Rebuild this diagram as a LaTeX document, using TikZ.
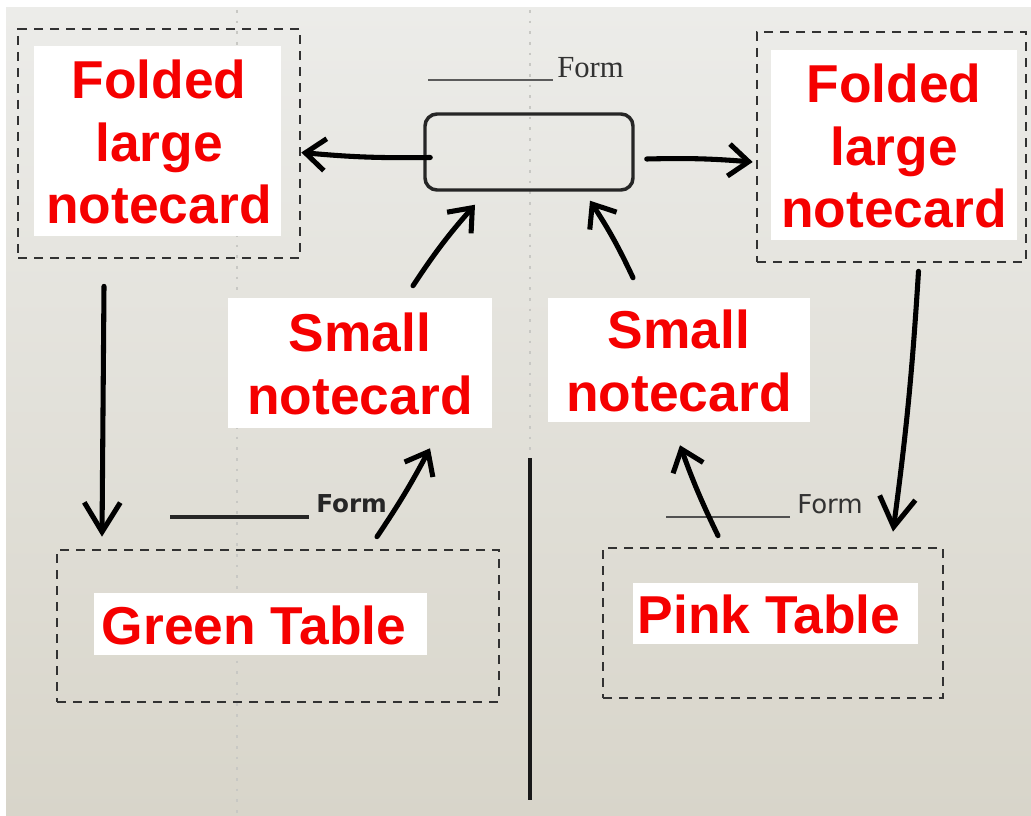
\documentclass[tikz,border=0pt]{standalone}
\usepackage{fontspec}
\setmainfont{Liberation Sans}
\newfontfamily\labelfont{Liberation Sans}
\newfontfamily\serifform{Liberation Serif}
\newfontfamily\dejavu{DejaVu Sans}
\usetikzlibrary{arrows.meta,fit,calc}
\definecolor{labelred}{RGB}{245,0,0}
\definecolor{papertop}{RGB}{236,236,233}
\definecolor{paperbot}{RGB}{216,213,202}
\definecolor{dashgray}{RGB}{50,50,50}
\definecolor{foldgray}{RGB}{200,200,196}
\definecolor{inkgray}{RGB}{50,50,50}
\begin{document}
\begin{tikzpicture}[x=0.75pt,y=-0.75pt,
  dashbox/.style={draw=dashgray, line width=2pt, dash pattern=on 7pt off 5pt, inner sep=0pt},
  whitebox/.style={fill=white, inner sep=0pt},
  redtext/.style={text=labelred, font=\labelfont\bfseries\fontsize{40}{47}\selectfont, align=center, inner sep=0pt},
  formframe/.style={draw=black!85, line width=2.6pt, rounded corners=9pt, inner sep=0pt},
  pen/.style={draw=black, line width=3.8pt, line cap=round, line join=round},
  hand/.style={pen, -{Straight Barb[length=15pt,width=24pt]}},
  bighand/.style={pen, -{Straight Barb[length=22pt,width=27pt]}},
  fold/.style={draw=foldgray, line width=0.8pt, dash pattern=on 2pt off 6pt},
  underline/.style={draw=inkgray, line width=2pt}
]
\useasboundingbox (0,0) rectangle (1031,816);
\clip (0,0) rectangle (1031,816);
\fill[white] (0,0) rectangle (1031,816);
\shade[top color=papertop, bottom color=paperbot] (6,8) rectangle (1031,816);
% faint fold lines
\draw[fold] (237,10) -- (237,816);
\draw[fold] (530,10) -- (530,450);
% centre vertical line
\draw[line width=2.6pt, black!90] (530,458) -- (530,800);

% top form title
\draw[underline, draw=inkgray!80] (428,80) -- (553,80);
\node[anchor=base west, inner sep=0pt, text=inkgray, font=\serifform\fontsize{23}{26}\selectfont] (formtitle) at (557,78) {Form};
\node[formframe, fit={(425,114) (633,190)}] (formbox) {};

% lower form titles
\draw[underline, line width=2.4pt, draw=black!85] (170,517) -- (309,517);
\node[anchor=base west, inner sep=0pt, text=black!85, font=\dejavu\bfseries\fontsize{18.5}{20}\selectfont] (formleft) at (316,512) {Form};
\draw[underline, draw=inkgray!85] (666,517) -- (790,517);
\node[anchor=base west, inner sep=0pt, text=inkgray, font=\dejavu\fontsize{19.5}{22}\selectfont] (formright) at (797,513) {Form};

% dashed cards
\node[dashbox, fit={(18,29) (300,258)}] (leftcard) {};
\node[dashbox, fit={(757,32) (1026,262)}] (rightcard) {};
\node[dashbox, fit={(57,550) (499,702)}] (greenbox) {};
\node[dashbox, fit={(603,548) (943,698)}] (pinkbox) {};

% white label boxes
\node[whitebox, fit={(34,46) (281,236)}] (leftlabel) {};
\node[redtext] (lefttext) at (159,142) {Folded\\large\\notecard};
\node[whitebox, fit={(771,50) (1017,240)}] (rightlabel) {};
\node[redtext] (righttext) at (894,146) {Folded\\large\\notecard};
\node[whitebox, fit={(228,298) (492,428)}] (smallL) {};
\node[redtext] (smallLtext) at (360,364) {Small\\notecard};
\node[whitebox, fit={(548,298) (810,422)}] (smallR) {};
\node[redtext] (smallRtext) at (679,361) {Small\\notecard};
\node[whitebox, fit={(94,593) (427,655)}] (greenlabel) {};
\node[redtext] (greentext) at (254,625) {Green Table};
\node[whitebox, fit={(633,583) (918,644)}] (pinklabel) {};
\node[redtext] (pinktext) at (769,614) {Pink Table};

% hand-drawn connectors
\draw[hand] ($(formbox.west)+(7,5.5)$) to[bend left=3] ($(leftcard.east)+(0,9)$);
\draw[hand] ($(formbox.east)+(12,7)$) to[bend left=3] ($(rightcard.west)+(-3,15)$);
\draw[hand] ($(smallL.north)+(53,-12)$) to[bend left=4] ($(formbox.south)+(-54,13)$);
\draw[hand] ($(smallR.north)+(-46,-20)$) to[bend right=4] ($(formbox.south)+(61,9)$);
\draw[bighand] ($(leftcard.south)+(-55,27)$) -- ($(greenbox.north)+(-176,-12)$);
\draw[bighand] ($(rightcard.south)+(27,8)$) to[bend left=2] ($(pinkbox.north)+(120,-15)$);
\draw[hand] ($(greenbox.north)+(99,-12)$) to[bend right=3] ($(smallL.south)+(70,20)$);
\draw[hand] ($(pinkbox.north)+(-55,-11)$) to[bend left=3] ($(smallR.south)+(1,23)$);
\end{tikzpicture}
\end{document}
